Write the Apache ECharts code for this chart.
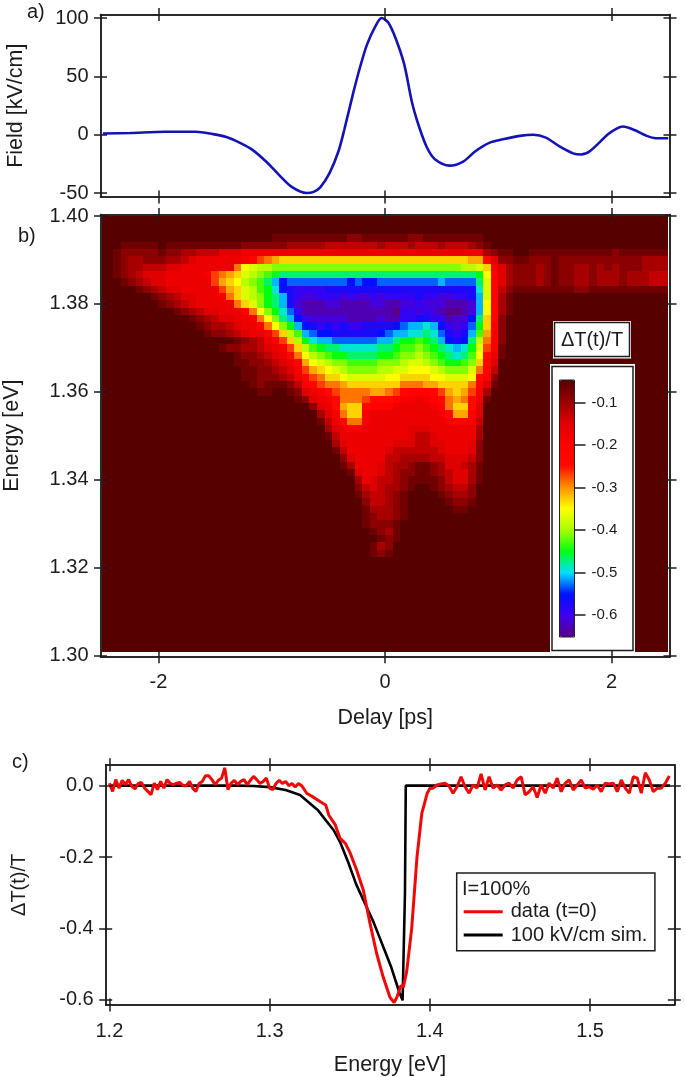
<!DOCTYPE html>
<html><head><meta charset="utf-8">
<style>html,body{margin:0;padding:0;background:#fff}#c{width:685px;height:1077px}</style>
<script src="https://cdn.jsdelivr.net/npm/echarts@6/dist/echarts.min.js"></script>
</head><body><div id="c"></div>
<script>
const FONT = '"Liberation Sans", Arial, sans-serif';
const INK = '#1c1c1c';

// panel a: field transient [delay ps, kV/cm]
const fieldDelay = [-2.49,-2.25,-1.94,-1.67,-1.52,-1.40,-1.28,-1.17,-1.05,-0.94,-0.82,-0.69,-0.63,-0.57,-0.49,-0.41,-0.36,-0.28,-0.22,-0.16,-0.09,-0.03,0.03,0.10,0.17,0.24,0.30,0.37,0.44,0.57,0.69,0.80,0.92,1.04,1.19,1.31,1.42,1.54,1.66,1.73,1.81,1.97,2.04,2.10,2.20,2.31,2.39,2.50];
const fieldValue = [1,1.5,2.5,2.5,0.5,-2,-7,-13,-23,-34,-45,-50,-49,-45,-33,-14,4,36,58,77,92,100,96,81,60,27,7,-11,-21,-26.5,-23,-14,-7,-4,-1,0,-2.5,-10,-16,-17,-14,0.5,5,7,4,-1,-3,-3];
const fieldYTicks = [-50,0,50,100];
const delayTicks = [-2,0,2];

// panel b: each character is one cell, indexing levelValues. Rows run from 1.40 eV downward, columns from -2.5 ps.
const levelChars = '0123456789abcdefghijklmnopqrstu';
const levelValues = [-0.05,-0.07,-0.09,-0.11,-0.13,-0.15,-0.17,-0.19,-0.21,-0.23,-0.25,-0.27,-0.29,-0.31,-0.33,-0.35,-0.37,-0.39,-0.41,-0.43,-0.45,-0.47,-0.49,-0.51,-0.53,-0.55,-0.57,-0.59,-0.61,-0.63,-0.65];
const energyStep = 0.1 / 60, delayStep = 1 / 15;
const heatRows = [
"","","",
"00000 00000 00000 00000 00011 11111 11122 11111 12211 11111 1",
"00011 11101 11111 11112 22222 33333 44444 44344 43444 34443 21",
"00122 22212 23344 45556 66666 66666 66666 66666 66666 66666 63211 00111 11111 11121 11111",
"00123 32223 34566 66667 9bcde eeeee eeeee eeeee eeeee eeeed da522 11222 12222 22222 22333",
"00123 34445 56666 666cf ghhii iiiii iiiii iiiii iiiii iiihh ge753 22232 12233 23232 22333",
"00123 45556 66667 bcdeg hijkl lllll lllll lllll lllll lllll kf853 22232 12233 23332 33344",
"00012 34556 66666 bdefh ijlnp ooooo ooopo ppooo ooooo noooo lg853 22232 12233 23332 33344",
"00000 12345 56666 6bdeg hjkmp qrrrr qqqqq qqqqq qqqqq qqqqq mg842 11111 11122 11111 11111",
"00000 00123 45566 67ceg hikln qrssr rrsrs srsrr rrqrr ssrrq ng831",
"00000 00012 34566 666ce gikln qsttt ssttt tsstt ssrss sttts nf831",
"00000 00000 12345 56668 cfikm orttt ttttt ttttu rrsrs tuuts nf831",
"00000 00000 00123 45566 7cfil nprss ssstt ttstt rrqqr rtssp le820",
"00000 00000 00012 33456 68cfi knpqr qrqrr qqqqp onnmn prsro ke720",
"00000 00000 00001 22345 667be hjnop pqqqq qqpon nmmlm oqrqn jd720",
"00000 00000 00000 00012 3467b ehkmn noooo oonnl kkjkl npqpl hc720",
"00000 00000 00000 01223 34567 behjk llmmm mmllk jjijk lmnmk gb710",
"00000 00000 00000 00012 23456 9cfhi jkkll llkkj iihij klmlj fa610",
"00000 00000 00000 00011 22345 68dfg hiijj jjiii hgghi jkkji e95",
"00000 00000 00000 00001 12234 57bde fghii iihhg gfffg hiiig c84",
"00000 00000 00000 00001 12223 469bc eefgg gggff eeeef fgggf a72",
"00000 00000 00000 00000 12111 2479b ccdee eeeee cccdd eeeec 851",
"00000 00000 00000 00000 01100 12567 abccc cddcb 98889 bdedb 73",
"00000 00000 00000 00000 00000 01256 7accc baaa8 77678 acdca 61",
"00000 00000 00000 00000 00000 00025 6adee a9886 66667 8ceea 5",
"00000 00000 00000 00000 00000 00003 57cee 76666 66666 7add8 5",
"00000 00000 00000 00000 00000 00001 46acc 76666 66666 67887 4",
"00000 00000 00000 00000 00000 00000 35677 66666 65556 66666 3",
"00000 00000 00000 00000 00000 00000 14666 66666 65445 66666 3",
"00000 00000 00000 00000 00000 00000 03566 66665 55445 56665 2",
"00000 00000 00000 00000 00000 00000 01466 66654 44444 56665 2",
"00000 00000 00000 00000 00000 00000 00256 66644 33334 45554 2",
"00000 00000 00000 00000 00000 00000 00136 66543 32112 35543 1",
"00000 00000 00000 00000 00000 00000 00015 66543 22112 34553 1",
"00000 00000 00000 00000 00000 00000 00003 65443 21111 24553 1",
"00000 00000 00000 00000 00000 00000 00002 45433 21001 23442",
"00000 00000 00000 00000 00000 00000 00001 34432 10000 12332",
"00000 00000 00000 00000 00000 00000 00000 24432 10000 01221",
"00000 00000 00000 00000 00000 00000 00000 13332 10000 00110",
"00000 00000 00000 00000 00000 00000 00000 12332 1",
"00000 00000 00000 00000 00000 00000 00000 12221",
"00000 00000 00000 00000 00000 00000 00000 01231",
"00000 00000 00000 00000 00000 00000 00000 00121",
"00000 00000 00000 00000 00000 00000 00000 01320",
"00000 00000 00000 00000 00000 00000 00000 01210",
"","","","","","","","","","","","",""
];
const heatYTicks = [1.30,1.32,1.34,1.36,1.38,1.40];
const scaleTicks = [-0.6,-0.5,-0.4,-0.3,-0.2,-0.1];
// colour stops every 0.05 from -0.65 to -0.05
const scaleColors = ['#5a0088','#4000f0','#0010ff','#00e0ff','#00ff10','#a8ff00','#ffff00','#ff9000','#ff0800','#ff0000','#e00000','#980000','#560000'];

// panel c: measured trace, in parts of 1000
const dataLeftStart = 1.2, dataLeftStep = 0.002;
const dataLeft = [7,-16,17,-7,15,3,17,-2,-9,6,9,-7,-16,-25,7,-11,12,-7,17,6,3,7,9,0,0,12,-7,-16,6,12,28,28,17,3,15,21,50,-11,7,15,3,12,17,3,15,26,17,6,12,21,-7,-11,6,15,6,12,0,6,-4,6,0];
const dataEdgeE = [1.3233,1.3265,1.3317,1.335,1.337,1.341,1.344,1.3473,1.3504,1.3544,1.3585,1.3627,1.3669,1.371,1.3752,1.3777,1.3794,1.382,1.3835,1.3856,1.3887,1.392,1.395,1.3983,1.40];
const dataEdgeV = [-22,-30,-45,-54,-83,-110,-148,-162,-190,-237,-293,-387,-472,-538,-594,-608,-594,-560,-565,-520,-400,-200,-78,-22,-8];
const dataRightStart = 1.402, dataRightStep = 0.0025;
const dataRight = [-7,2,5,7,-1,-21,-3,25,-3,-21,2,-7,33,-12,25,-7,2,-12,2,7,-7,16,25,-26,-17,-3,-33,2,-21,7,-7,21,-17,7,16,-12,2,16,-7,-3,-10,2,-17,7,5,7,-17,16,-7,-21,25,21,-21,36,16,-17,-7,-7,7,27];
const simEnergy = [1.2,1.28,1.29,1.30,1.31,1.319,1.33,1.34,1.344,1.349,1.354,1.365,1.376,1.381,1.383,1.3845,1.385,1.55];
const simValue = [0,0,-0.001,-0.004,-0.012,-0.026,-0.068,-0.125,-0.158,-0.214,-0.276,-0.384,-0.51,-0.58,-0.602,-0.3,0,0];
const energyTicks = [1.2,1.3,1.4,1.5];
const dtYTicks = [-0.6,-0.4,-0.2,0];

const fieldData = fieldDelay.map((d,i)=>[d,fieldValue[i]]);
const heatData = [];
heatRows.forEach((row,j)=>{
  const s = row.replace(/ /g,'');
  for (let i=0;i<76;i++){
    const ch = i<s.length ? s[i] : (s.length===75 ? s[74] : '0');
    heatData.push([-2.5+i*delayStep, 1.40-j*energyStep, levelValues[levelChars.indexOf(ch)]]);
  }
});
const dataTrace = [
  ...dataLeft.map((v,i)=>[dataLeftStart+i*dataLeftStep, v/1000]),
  ...dataEdgeE.map((e,i)=>[e, dataEdgeV[i]/1000]),
  ...dataRight.map((v,i)=>[dataRightStart+i*dataRightStep, v/1000])
];
const simTrace = simEnergy.map((e,i)=>[e,simValue[i]]);

function axes(gridIndex, min, max, ticks, sides, opt){
  opt = opt || {};
  const out = [];
  sides.forEach((side,si)=>{
    [false,true].forEach((inside,ii)=>{
      const primary = si===0 && ii===0;
      out.push({
        type:'value', gridIndex, position:side, min, max, z:5, silent:true,
        splitLine:{show:false},
        axisLine:{show:true, onZero:false, lineStyle:{color:INK,width:1.5}},
        axisTick:{show:true, inside, length:6.5, lineStyle:{color:INK,width:1.5}, customValues:ticks},
        axisLabel:{show:primary && !opt.noLabel, customValues:ticks, margin:opt.margin||12, fontSize:20, fontFamily:FONT, color:INK, formatter:opt.fmt, showMinLabel:true, showMaxLabel:true},
        name:primary?opt.name:'', nameLocation:'middle', nameGap:opt.nameGap||40, nameRotate:opt.nameRotate,
        nameTextStyle:{fontSize:opt.nameSize||21.5,fontFamily:FONT,color:INK}
      });
    });
  });
  return out;
}
const XS=['bottom','top'], YS=['left','right'];
const frameLeft=100.5, frameWidth=569.5;
const delayMin=-2.511, delayMax=2.515;

const xAxis=[
 ...axes(0,delayMin,delayMax,delayTicks,XS,{noLabel:true}),
 ...axes(1,delayMin,delayMax,delayTicks,XS,{name:'Delay [ps]',nameGap:50,margin:16,fmt:v=>String(v)}),
 ...axes(2,1.1977,1.5526,energyTicks,XS,{name:'Energy [eV]',nameGap:49,margin:16,fmt:v=>v.toFixed(1)}),
 {type:'value',gridIndex:3,min:0,max:1,show:false}
];
const yAxis=[
 ...axes(0,-53.4,103,fieldYTicks,YS,{name:'Field [kV/cm]',nameGap:73,nameRotate:90,fmt:v=>String(v)}),
 ...axes(1,1.2998,1.40034,heatYTicks,YS,{name:'Energy [eV]',nameGap:77,nameRotate:90,fmt:v=>v.toFixed(2)}),
 ...axes(2,-0.615,0.0588,dtYTicks,YS,{name:'ΔT(t)/T',nameGap:76.7,nameRotate:90,nameSize:20,fmt:v=>v.toFixed(1)}),
 {type:'value',gridIndex:3,position:'right',min:-0.652,max:-0.047,z:7,silent:true,splitLine:{show:false},
  axisLine:{show:false,onZero:false},
  axisTick:{show:true,length:11,lineStyle:{color:INK,width:1.5},customValues:scaleTicks},
  axisLabel:{customValues:scaleTicks,margin:17,fontSize:15,fontFamily:FONT,color:INK,formatter:v=>v.toFixed(1)}}
];

function renderCell(params,api){
  const x=api.value(0), y=api.value(1);
  const x0=Math.max(x-delayStep/2,-2.5), x1=Math.min(x+delayStep/2,2.5);
  const y0=Math.max(y-energyStep/2,1.30), y1=Math.min(y+energyStep/2,1.40);
  const a=api.coord([x0,y1]), b=api.coord([x1,y0]);
  const l=Math.round(a[0]), t=Math.round(a[1]), r=Math.round(b[0]), d=Math.round(b[1]);
  return {type:'rect',shape:{x:l,y:t,width:r-l,height:d-t},style:{fill:api.visual('color')}};
}

const option={
 animation:false, backgroundColor:'#fff',
 grid:[
  {left:frameLeft,width:frameWidth,top:14.5,height:182.5,outerBoundsMode:'none'},
  {left:frameLeft,width:frameWidth,top:214.5,height:442.3,outerBoundsMode:'none'},
  {left:105.7,width:568.6,top:764.7,height:240.3,outerBoundsMode:'none'},
  {left:559.5,width:15,top:380,height:257,outerBoundsMode:'none'}
 ],
 xAxis,yAxis,
 visualMap:{type:'continuous',seriesIndex:1,dimension:2,min:-0.65,max:-0.05,inRange:{color:scaleColors},
  calculable:false,hoverLink:false,left:559.5,top:380,itemWidth:15,itemHeight:257,padding:0,text:null,z:6,showLabel:false},
 legend:{orient:'vertical',left:456.7,top:873,padding:[28.7,7.5,5.7,7],itemWidth:39,itemHeight:3,itemGap:3.3,icon:'rect',
  borderColor:INK,borderWidth:1.5,backgroundColor:'#fff',selectedMode:false,z:4,
  data:['data (t=0)','100 kV/cm sim.'],textStyle:{fontSize:20,fontFamily:FONT,color:INK,padding:[0,0,0,3]}},
 graphic:[
  {type:'rect',z:3,shape:{x:553,y:321,width:78,height:37.5},style:{fill:'#fff'}},
  {type:'rect',z:3,shape:{x:554.5,y:322.5,width:75,height:34},style:{fill:'#fff',stroke:INK,lineWidth:1.5}},
  {type:'rect',z:3,shape:{x:550,y:364,width:85,height:288.5},style:{fill:'#fff'}},
  {type:'rect',z:3,shape:{x:552,y:366.5,width:81,height:284},style:{fill:'#fff',stroke:INK,lineWidth:1.5}},
  {type:'rect',z:7,shape:{x:559.5,y:380,width:15,height:257},style:{fill:'none',stroke:'#222',lineWidth:1}},
  {type:'text',z:7,x:592,y:340,style:{text:'ΔT(t)/T',font:'20px '+FONT,fill:INK,textAlign:'center',textVerticalAlign:'middle'}},
  {type:'text',z:7,x:27,y:12,style:{text:'a)',font:'20px '+FONT,fill:INK,textVerticalAlign:'middle'}},
  {type:'text',z:7,x:18,y:236,style:{text:'b)',font:'20px '+FONT,fill:INK,textVerticalAlign:'middle'}},
  {type:'text',z:7,x:12,y:762,style:{text:'c)',font:'20px '+FONT,fill:INK,textVerticalAlign:'middle'}},
  {type:'text',z:7,x:462,y:889,style:{text:'I=100%',font:'20px '+FONT,fill:INK,textVerticalAlign:'middle'}}
 ],
 series:[
  {type:'line',xAxisIndex:0,yAxisIndex:0,data:fieldData,symbol:'none',smooth:0.3,lineStyle:{color:'#1414b4',width:2.6},z:3},
  {type:'custom',xAxisIndex:4,yAxisIndex:4,data:heatData,encode:{x:0,y:1},renderItem:renderCell,progressive:0,silent:true,z:2},
  {type:'line',name:'100 kV/cm sim.',xAxisIndex:8,yAxisIndex:8,data:simTrace,symbol:'none',itemStyle:{color:'#000'},lineStyle:{color:'#000',width:2.6},z:3},
  {type:'line',name:'data (t=0)',xAxisIndex:8,yAxisIndex:8,data:dataTrace,symbol:'none',itemStyle:{color:'#f00808'},lineStyle:{color:'#f00808',width:3},z:4}
 ]
};
const chart=echarts.init(document.getElementById('c'),null,{renderer:'canvas'});
chart.setOption(option);
</script></body></html>
